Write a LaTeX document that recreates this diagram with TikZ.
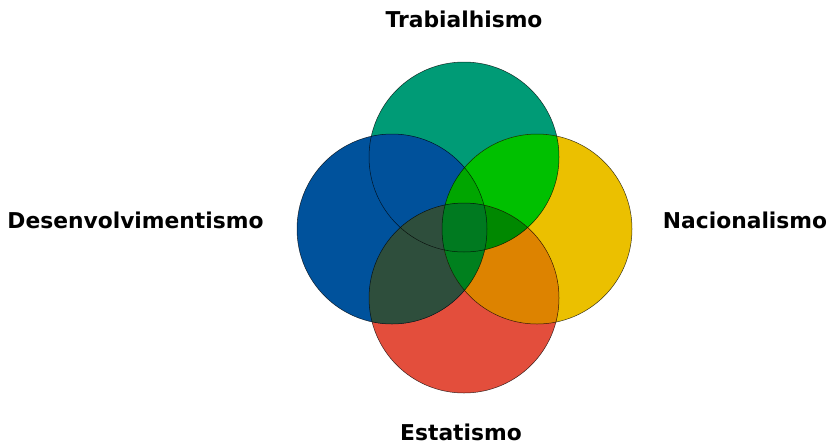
\documentclass[tikz,border=0pt]{standalone}
\usepackage{fontspec}
\setmainfont{DejaVu Sans}
\usetikzlibrary{positioning}
\definecolor{colT}{RGB}{0,155,118}
\definecolor{colL}{RGB}{0,82,156}
\definecolor{colR}{RGB}{235,192,0}
\definecolor{colB}{RGB}{227,78,60}
\definecolor{colTR}{RGB}{0,192,0}
\definecolor{colTL}{RGB}{0,81,155}
\definecolor{colLB}{RGB}{46,78,60}
\definecolor{colRB}{RGB}{221,131,0}
\definecolor{colTLR}{RGB}{0,166,0}
\definecolor{colTRB}{RGB}{0,136,0}
\definecolor{colLRB}{RGB}{0,128,30}
\definecolor{colAll}{RGB}{0,122,32}
\tikzset{
    venn/.style={circle, minimum size=190pt, inner sep=0pt},
    rim/.style={draw=black, draw opacity=0.75, line width=0.5pt},
    setname/.style={font=\fontsize{21.8}{26}\selectfont\bfseries, anchor=base, inner sep=0pt},
}
\newcommand{\disc}[1]{(#1.center) circle[radius=95pt]}

\begin{document}
\begin{tikzpicture}[x=1pt, y=-1pt]
    \useasboundingbox (0,0) rectangle (830,445);

    % Circles
    \node[venn, fill=colT] (top) at (464,157) {};
    \node[venn, fill=colR] (right) at (537,229) {};
    \node[venn, fill=colB] (bottom) at (464,298) {};
    \node[venn, fill=colL] (left) at (392,229) {};

    % Two sets
    \begin{scope}\clip \disc{top}; \fill[colTL] \disc{left}; \end{scope}
    \begin{scope}\clip \disc{top}; \fill[colTR] \disc{right}; \end{scope}
    \begin{scope}\clip \disc{left}; \fill[colLB] \disc{bottom}; \end{scope}
    \begin{scope}\clip \disc{right}; \fill[colRB] \disc{bottom}; \end{scope}

    % Three sets
    \begin{scope}\clip \disc{top}; \clip \disc{left}; \fill[colTLR] \disc{right}; \end{scope}
    \begin{scope}\clip \disc{top}; \clip \disc{right}; \fill[colTRB] \disc{bottom}; \end{scope}
    \begin{scope}\clip \disc{top}; \clip \disc{left}; \fill[colLB] \disc{bottom}; \end{scope}
    \begin{scope}\clip \disc{left}; \clip \disc{right}; \fill[colLRB] \disc{bottom}; \end{scope}

    % All four
    \begin{scope}\clip \disc{top}; \clip \disc{left}; \clip \disc{right}; \fill[colAll] \disc{bottom}; \end{scope}

    % Outlines
    \foreach \c in {top, right, bottom, left} {
        \draw[rim] \disc{\c};
    }

    % Labels
    \node[setname] (trab) at (464,27) {Trabialhismo};
    \node[setname] (desenv) at (135.5,228) {Desenvolvimentismo};
    \node[setname] (nac) at (745,228) {Nacionalismo};
    \node[setname] (estat) at (461,440) {Estatismo};
\end{tikzpicture}
\end{document}
